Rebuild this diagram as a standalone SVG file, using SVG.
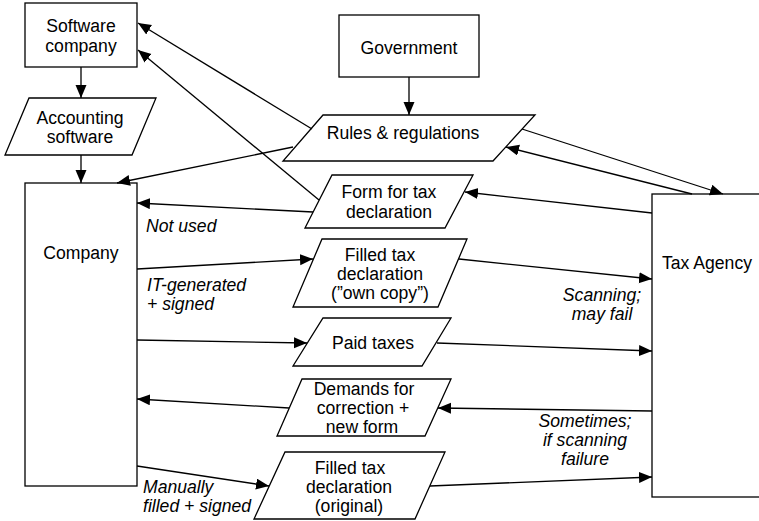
<svg xmlns="http://www.w3.org/2000/svg" width="759" height="521" viewBox="0 0 759 521">
<style>
.shape{fill:#fff;stroke:#000;stroke-width:1.3}
.t{font-family:"Liberation Sans",Arial,sans-serif;font-size:17.6px;fill:#000;text-anchor:middle}
.lbl{font-family:"Liberation Sans",Arial,sans-serif;font-size:17.6px;font-style:italic;fill:#000}
.c line{stroke:#000;stroke-width:1.3;marker-end:url(#ah)}
</style>
<defs>
<marker id="ah" markerUnits="userSpaceOnUse" markerWidth="14" markerHeight="12" refX="13" refY="5.5" orient="auto">
<path d="M0,0 L13,5.5 L0,11 z" fill="#000"/>
</marker>
</defs>
<rect width="759" height="521" fill="#fff"/>
<g id="software-company"><rect class="shape" x="25" y="3" width="112" height="64"/><text class="t" x="81" y="32">Software</text><text class="t" x="81" y="52">company</text></g>
<g id="accounting-software"><polygon class="shape" points="29,98 156,98 132,155 5,155"/><text class="t" x="80" y="124">Accounting</text><text class="t" x="80" y="143">software</text></g>
<g id="company"><rect class="shape" x="25" y="183" width="112" height="303"/><text class="t" x="81" y="259">Company</text></g>
<g id="government"><rect class="shape" x="339" y="15" width="140" height="62"/><text class="t" x="409" y="54">Government</text></g>
<g id="rules"><polygon class="shape" points="323,115 535,115 493,161 283,161"/><text class="t" x="403" y="139">Rules &amp; regulations</text></g>
<g id="form"><polygon class="shape" points="332,175 473,175 445,228 305,228"/><text class="t" x="389" y="198">Form for tax</text><text class="t" x="389" y="218">declaration</text></g>
<g id="filled-own-copy"><polygon class="shape" points="322,239 467,239 438,307 293,307"/><text class="t" x="380" y="261">Filled tax</text><text class="t" x="380" y="280">declaration</text><text class="t" x="380" y="299">(”own copy”)</text></g>
<g id="paid-taxes"><polygon class="shape" points="323,318 451,318 422,366 293,366"/><text class="t" x="373" y="349">Paid taxes</text></g>
<g id="demands"><polygon class="shape" points="302,379 451,379 425,436 277,436"/><text class="t" x="364" y="395">Demands for</text><text class="t" x="363" y="414">correction +</text><text class="t" x="362" y="433">new form</text></g>
<g id="filled-original"><polygon class="shape" points="285,452 445,452 415,519 254,519"/><text class="t" x="350" y="474">Filled tax</text><text class="t" x="349" y="493">declaration</text><text class="t" x="349" y="512">(original)</text></g>
<g id="tax-agency"><rect class="shape" x="652" y="194" width="130" height="303"/><text class="t" x="662" y="269" style="text-anchor:start">Tax Agency</text></g>
<g id="connectors" class="c">
<line x1="81" y1="67" x2="81" y2="98"/>
<line x1="81" y1="155" x2="81" y2="183"/>
<line x1="409" y1="77" x2="409" y2="115"/>
<line x1="312" y1="129" x2="138" y2="23"/>
<line x1="319" y1="200" x2="138" y2="50"/>
<line x1="293" y1="147" x2="117" y2="183"/>
<line x1="313" y1="212" x2="137" y2="203"/>
<line x1="137" y1="269" x2="313" y2="259"/>
<line x1="137" y1="340" x2="307" y2="343"/>
<line x1="289" y1="408" x2="137" y2="399"/>
<line x1="137" y1="466" x2="269" y2="486"/>
<line x1="459" y1="259" x2="652" y2="279"/>
<line x1="437" y1="343" x2="652" y2="351"/>
<line x1="652" y1="411" x2="438" y2="408"/>
<line x1="430" y1="486" x2="652" y2="477"/>
<line x1="652" y1="213" x2="465" y2="192"/>
<line x1="522" y1="129" x2="723" y2="194"/>
<line x1="692" y1="194" x2="506" y2="147"/>
</g>
<g id="labels">
<text class="lbl" x="146" y="232">Not used</text>
<text class="lbl" x="147" y="291">IT-generated</text>
<text class="lbl" x="147" y="310">+ signed</text>
<text class="lbl" x="602" y="301" text-anchor="middle">Scanning;</text>
<text class="lbl" x="602" y="320" text-anchor="middle">may fail</text>
<text class="lbl" x="585" y="427" text-anchor="middle">Sometimes;</text>
<text class="lbl" x="585" y="446" text-anchor="middle">if scanning</text>
<text class="lbl" x="585" y="465" text-anchor="middle">failure</text>
<text class="lbl" x="143" y="493">Manually</text>
<text class="lbl" x="143" y="512">filled + signed</text>
</g>
</svg>
